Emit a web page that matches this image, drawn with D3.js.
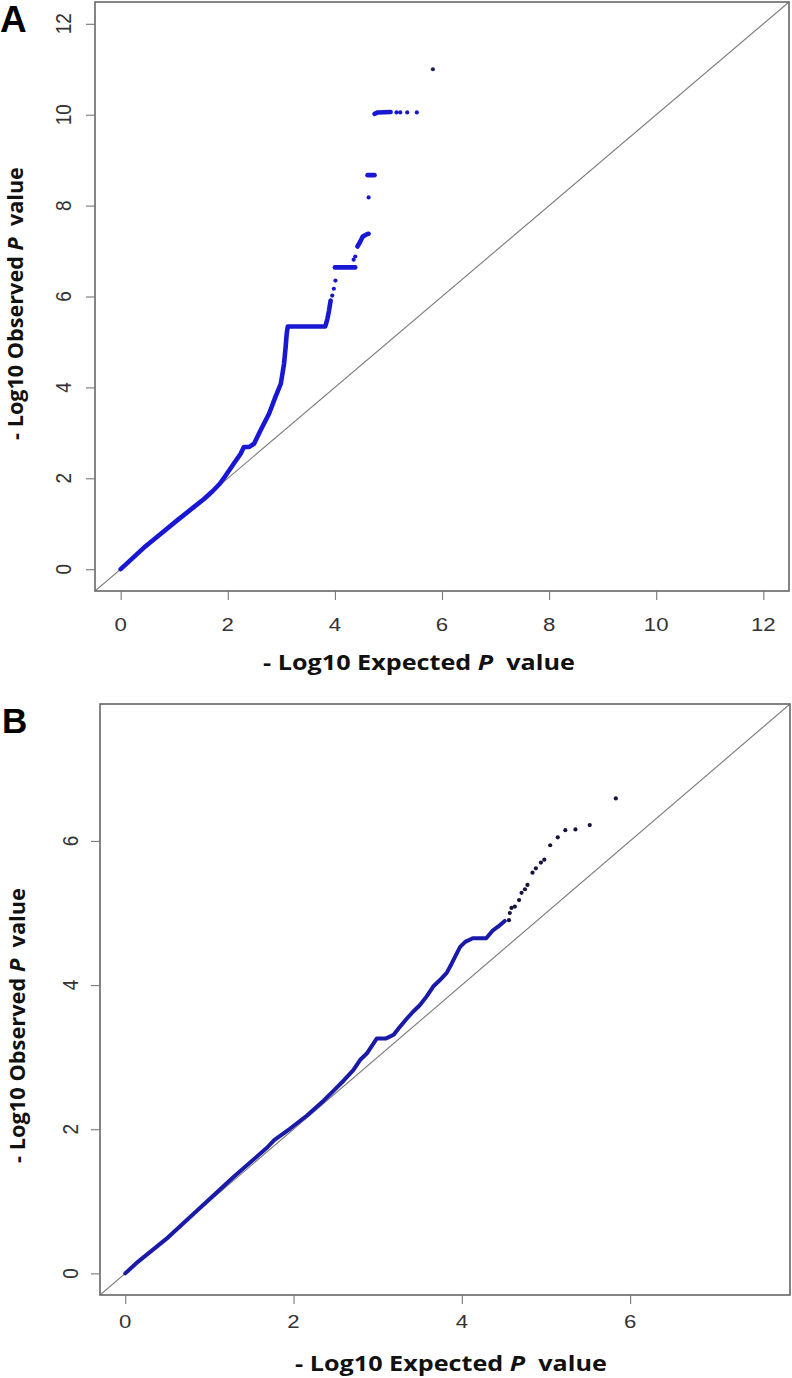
<!DOCTYPE html>
<html>
<head>
<meta charset="utf-8">
<script src="https://cdn.jsdelivr.net/npm/d3@7/dist/d3.min.js"></script>
<style>
  html, body { margin: 0; padding: 0; background: #fff; }
  svg { display: block; }
</style>
</head>
<body>
<div id="chart"></div>
<script>
// ---------------- DATA ----------------
const panelLabels = ["A", "B"];
const xTitleParts = ["- Log10 Expected ", "P", "  value"];
const yTitleParts = ["- Log10 Observed ", "P", "  value"];
const ticksA = [0, 2, 4, 6, 8, 10, 12];
const ticksB = [0, 2, 4, 6];

// Panel A: dense runs of points (expected, observed)
const aRun1 = [[0,0],[0.43,0.47],[0.75,0.78],[1.06,1.08],[1.37,1.37],[1.55,1.54],[1.72,1.72],[1.85,1.88],[1.96,2.06],[2.11,2.32],[2.24,2.54],[2.30,2.69],[2.40,2.69],[2.49,2.76],[2.61,3.05],[2.77,3.42],[2.89,3.79],[2.99,4.08],[3.05,4.52],[3.08,4.89],[3.10,5.18],[3.12,5.34],[3.82,5.34],[3.86,5.51],[3.89,5.69],[3.92,5.91]];
const aRun2 = [[4.00,6.64],[4.38,6.64]];
const aRun3 = [[4.42,7.10],[4.47,7.20],[4.52,7.32],[4.58,7.36],[4.63,7.38]];
const aRun4 = [[4.61,8.67],[4.74,8.67]];
const aRun5 = [[4.74,10.02],[4.80,10.05],[5.04,10.06]];
// Panel A: isolated points
const aPoints = [[3.95,6.02],[3.98,6.17],[4.01,6.35],[4.35,6.81],[4.38,6.88],[4.63,8.18],[5.15,10.05],[5.22,10.05],[5.35,10.05],[5.53,10.05],[5.83,11.0]];

// Panel B: dense run
const bRun1 = [[0,0],[0.15,0.16],[0.51,0.50],[0.90,0.92],[1.29,1.34],[1.69,1.75],[1.77,1.85],[1.96,2.01],[2.16,2.19],[2.36,2.40],[2.48,2.54],[2.60,2.68],[2.71,2.82],[2.79,2.96],[2.87,3.05],[2.99,3.26],[3.10,3.26],[3.19,3.31],[3.25,3.40],[3.35,3.54],[3.42,3.63],[3.50,3.72],[3.58,3.84],[3.66,3.98],[3.74,4.07],[3.82,4.17],[3.88,4.30],[3.94,4.44],[3.98,4.53],[4.04,4.60],[4.13,4.65],[4.29,4.65],[4.37,4.76],[4.43,4.81],[4.51,4.89]];
// Panel B: isolated points
const bPoints = [[4.56,4.90],[4.57,5.00],[4.59,5.07],[4.63,5.09],[4.68,5.18],[4.71,5.28],[4.75,5.33],[4.78,5.39],[4.84,5.56],[4.88,5.62],[4.94,5.70],[4.98,5.74],[5.05,5.94],[5.14,6.05],[5.23,6.15],[5.35,6.16],[5.52,6.22],[5.83,6.59]];

// ---------------- LAYOUT ----------------
const W = 792, H = 1378;
const svg = d3.select("#chart").append("svg").attr("width", W).attr("height", H);

const panels = [
  {
    label: panelLabels[0], labelX: 0, labelY: 32, labelSize: 37,
    box: {l: 95, t: 2, r: 789, b: 591}, domain: [-0.48, 12.48], ticks: ticksA,
    runs: [aRun1, aRun2, aRun3, aRun4, aRun5], points: aPoints,
    lineColor: "#1818d4", lineWidth: 4.6, pointColor: "#1818c8", lastPointColor: "#20205a",
    yTickX: 71, xTickY: 631,
    xTitle: {cx: 419, y: 670, w: 312}, yTitle: {cy: 303.5, x: 23, w: 273},
    stretch: 1.17
  },
  {
    label: panelLabels[1], labelX: 2, labelY: 733, labelSize: 35,
    box: {l: 100, t: 704, r: 790, b: 1295}, domain: [-0.3, 7.9], ticks: ticksB,
    runs: [bRun1], points: bPoints,
    lineColor: "#1a1aa8", lineWidth: 4, pointColor: "#14143c", lastPointColor: "#14143c",
    yTickX: 78, xTickY: 1328,
    xTitle: {cx: 451, y: 1371, w: 312}, yTitle: {cy: 1025.5, x: 25, w: 275},
    stretch: 1.17
  }
];

function addTitle(g, parts, size) {
  const t = g.append("text")
    .attr("text-anchor", "middle")
    .style("font-family", "'Open Sans', 'DejaVu Sans', sans-serif")
    .style("font-weight", "bold")
    .style("font-size", size + "px")
    .attr("fill", "#111");
  parts.forEach((p, i) => {
    const ts = t.append("tspan").text(p);
    if (i === 1) ts.style("font-style", "italic");
  });
  t.attr("xml:space", "preserve").style("white-space", "pre");
  return t;
}

panels.forEach((P, pi) => {
  const g = svg.append("g");
  const x = d3.scaleLinear().domain(P.domain).range([P.box.l, P.box.r]);
  const y = d3.scaleLinear().domain(P.domain).range([P.box.b, P.box.t]);

  const clipId = "clip" + pi;
  g.append("clipPath").attr("id", clipId).append("rect")
    .attr("x", P.box.l).attr("y", P.box.t)
    .attr("width", P.box.r - P.box.l).attr("height", P.box.b - P.box.t);

  // diagonal y = x
  g.append("line")
    .attr("clip-path", `url(#${clipId})`)
    .attr("x1", x(P.domain[0])).attr("y1", y(P.domain[0]))
    .attr("x2", x(P.domain[1])).attr("y2", y(P.domain[1]))
    .attr("stroke", "#7a7a7a").attr("stroke-width", 1.1);

  // dense runs
  const line = d3.line().x(d => x(d[0])).y(d => y(d[1]));
  P.runs.forEach(run => {
    g.append("path").attr("d", line(run))
      .attr("fill", "none").attr("stroke", P.lineColor)
      .attr("stroke-width", P.lineWidth)
      .attr("stroke-linejoin", "round").attr("stroke-linecap", "round");
  });

  // isolated points
  g.selectAll("circle.pt").data(P.points).join("circle")
    .attr("class", "pt")
    .attr("cx", d => x(d[0])).attr("cy", d => y(d[1]))
    .attr("r", 2.1)
    .attr("fill", (d, i) => i === P.points.length - 1 ? P.lastPointColor : P.pointColor);

  // box
  g.append("rect")
    .attr("x", P.box.l).attr("y", P.box.t)
    .attr("width", P.box.r - P.box.l).attr("height", P.box.b - P.box.t)
    .attr("fill", "none").attr("stroke", "#666").attr("stroke-width", 1.6);

  // x axis ticks
  const xAxis = d3.axisBottom(x).tickValues(P.ticks).tickSize(9).tickFormat("");
  const xg = g.append("g").attr("transform", `translate(0,${P.box.b})`).call(xAxis);
  xg.select(".domain").remove();
  xg.selectAll(".tick line").attr("stroke", "#777").attr("stroke-width", 1.1);
  g.selectAll("text.xt").data(P.ticks).join("text")
    .attr("class", "xt")
    .attr("transform", d => `translate(${x(d)},${P.xTickY}) scale(${P.stretch},1)`)
    .attr("text-anchor", "middle")
    .style("font-family", "'Liberation Sans', Arial, sans-serif")
    .style("font-size", "19px").attr("fill", "#333")
    .text(d => d);

  // y axis ticks
  const yAxis = d3.axisLeft(y).tickValues(P.ticks).tickSize(9).tickFormat("");
  const yg = g.append("g").attr("transform", `translate(${P.box.l},0)`).call(yAxis);
  yg.select(".domain").remove();
  yg.selectAll(".tick line").attr("stroke", "#777").attr("stroke-width", 1.1);
  g.selectAll("text.yt").data(P.ticks).join("text")
    .attr("class", "yt")
    .attr("transform", d => `translate(${P.yTickX},${y(d)}) scale(${P.stretch},1) rotate(-90)`)
    .attr("text-anchor", "middle")
    .style("font-family", "'Liberation Sans', Arial, sans-serif")
    .style("font-size", "19px").attr("fill", "#333")
    .text(d => d);

  // x title
  const xt = addTitle(g, xTitleParts, 21);
  let w = xt.node().getBBox().width;
  xt.attr("transform", `translate(${P.xTitle.cx},${P.xTitle.y}) scale(${P.xTitle.w / w},1)`);

  // y title
  const yt = addTitle(g, yTitleParts, 21);
  w = yt.node().getBBox().width;
  yt.attr("transform", `translate(${P.yTitle.x},${P.yTitle.cy}) rotate(-90) scale(${P.yTitle.w / w},1)`);

  // panel label
  g.append("text")
    .attr("x", P.labelX).attr("y", P.labelY)
    .style("font-family", "'Liberation Sans', Arial, sans-serif")
    .style("font-weight", "bold")
    .style("font-size", P.labelSize + "px")
    .attr("fill", "#000")
    .text(P.label);
});
</script>
</body>
</html>
